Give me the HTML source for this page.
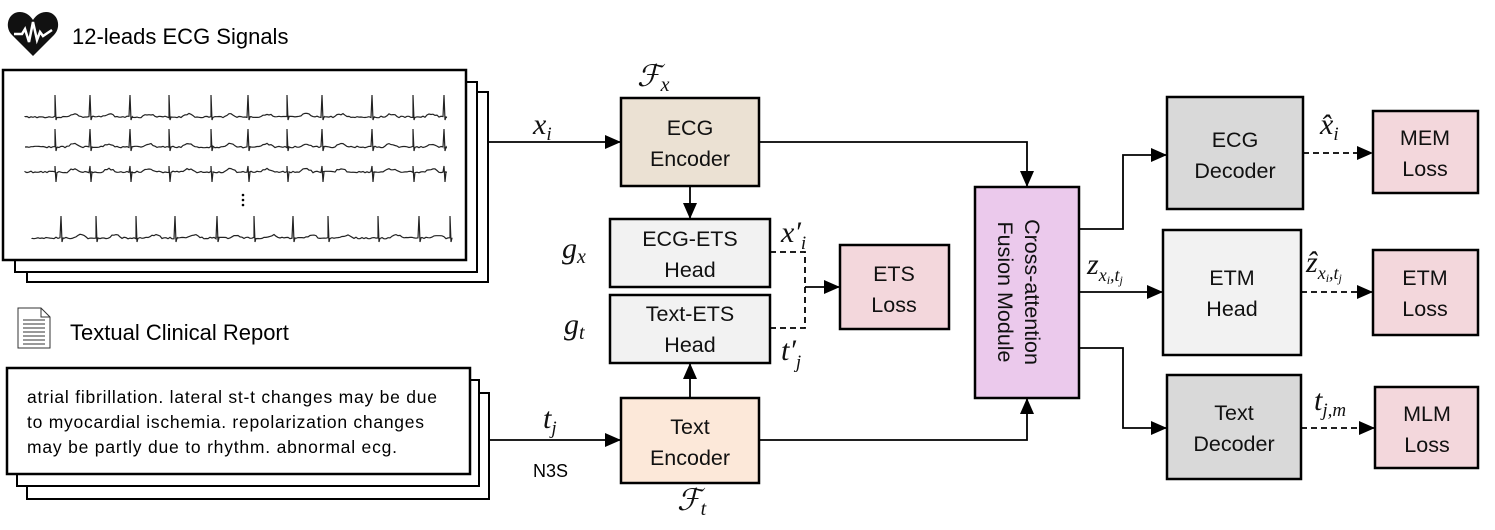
<!DOCTYPE html>
<html><head><meta charset="utf-8"><style>
html,body{margin:0;padding:0;background:#fff;width:1495px;height:530px;overflow:hidden}
text{font-family:"Liberation Sans",sans-serif}
text.m,text.m tspan{font-family:"Liberation Serif",serif;font-style:italic}
.b{font-size:21.5px;text-anchor:middle;fill:#111}
</style></head><body>
<svg id="s" width="1495" height="530" viewBox="0 0 1495 530" xmlns="http://www.w3.org/2000/svg">
<defs>
<marker id="a2" markerWidth="16" markerHeight="14" refX="15" refY="7" orient="auto" markerUnits="userSpaceOnUse"><path d="M0,0 L16,7 L0,14z" fill="#000"/></marker></defs>
<path d="M33,56 L12,35 C4,27 8,12 20,12 C27,12 31,17 33,20 C35,17 39,12 46,12 C58,12 62,27 54,35z" fill="#111"/>
<polyline points="14,34 22,34 25,29 29,42 33,22 37,40 40,32 43,36 52,30" fill="none" stroke="#fff" stroke-width="2.5"/>
<text x="72" y="44" font-size="22">12-leads ECG Signals</text>
<rect x="27" y="92" width="461" height="190" fill="#fff" stroke="#000" stroke-width="2"/>
<rect x="15" y="82" width="462" height="190" fill="#fff" stroke="#000" stroke-width="2"/>
<rect x="3" y="70" width="463" height="190" fill="#fff" stroke="#000" stroke-width="2.5"/>
<g id="w" fill="none" stroke="#222" stroke-width="1.2"></g>
<circle cx="243" cy="195" r="1.3"/><circle cx="243" cy="200" r="1.3"/><circle cx="243" cy="205" r="1.3"/>
<path d="M18,308 L41,308 L50,317 L50,348 L18,348z M41,308 L41,317 L50,317" fill="#fff" stroke="#333" stroke-width="1"/>
<g stroke="#333" stroke-width="1"><line x1="23" y1="320" x2="45" y2="320"/><line x1="23" y1="324" x2="45" y2="324"/><line x1="23" y1="328" x2="45" y2="328"/><line x1="23" y1="332" x2="45" y2="332"/><line x1="23" y1="336" x2="45" y2="336"/><line x1="23" y1="340" x2="45" y2="340"/><line x1="23" y1="344" x2="45" y2="344"/></g>
<text x="70" y="340" font-size="22">Textual Clinical Report</text>
<rect x="27" y="393" width="462" height="106" fill="#fff" stroke="#000" stroke-width="2"/>
<rect x="17" y="380" width="462" height="106" fill="#fff" stroke="#000" stroke-width="2"/>
<rect x="7" y="368" width="463" height="106" fill="#fff" stroke="#000" stroke-width="2.5"/>
<text x="27" y="403" font-size="17.5" textLength="410">atrial fibrillation. lateral st-t changes may be due</text>
<text x="27" y="428" font-size="17.5" textLength="397">to myocardial ischemia. repolarization changes</text>
<text x="27" y="453" font-size="17.5" textLength="370">may be partly due to rhythm. abnormal ecg.</text>
<g stroke="#000" stroke-width="1.8" fill="none">
<line x1="489" y1="142" x2="620" y2="142" marker-end="url(#a2)"/>
<line x1="489" y1="440" x2="620" y2="440" marker-end="url(#a2)"/>
<line x1="690" y1="186" x2="690" y2="218" marker-end="url(#a2)"/>
<line x1="690" y1="398" x2="690" y2="364" marker-end="url(#a2)"/>
<polyline points="759,142 1027,142 1027,186" marker-end="url(#a2)"/>
<polyline points="759,440 1027,440 1027,399" marker-end="url(#a2)"/>
<polyline points="1079,229 1123,229 1123,155 1166,155" marker-end="url(#a2)"/>
<line x1="1079" y1="292" x2="1162" y2="292" marker-end="url(#a2)"/>
<polyline points="1079,348 1123,348 1123,428 1166,428" marker-end="url(#a2)"/>
<line x1="805" y1="287" x2="839" y2="287" marker-end="url(#a2)"/>
</g>
<g stroke="#000" stroke-width="1.8" fill="none" stroke-dasharray="6,4">
<polyline points="770,252 805,252 805,328 770,328"/>
<line x1="1303" y1="153" x2="1372" y2="153" marker-end="url(#a2)"/>
<line x1="1301" y1="292" x2="1372" y2="292" marker-end="url(#a2)"/>
<line x1="1301" y1="428" x2="1374" y2="428" marker-end="url(#a2)"/>
</g>
<g stroke="#000" stroke-width="2.5">
<rect x="621" y="98" width="138" height="88" fill="#ebe1d3"/>
<rect x="610" y="219" width="160" height="68" fill="#f2f2f2"/>
<rect x="610" y="295" width="160" height="68" fill="#f2f2f2"/>
<rect x="621" y="398" width="138" height="85" fill="#fce8d9"/>
<rect x="840" y="245" width="109" height="84" fill="#f3d7dc"/>
<rect x="975" y="187" width="104" height="211" fill="#ebc9ec"/>
<rect x="1167" y="97" width="136" height="112" fill="#d9d9d9"/>
<rect x="1163" y="230" width="138" height="125" fill="#f2f2f2"/>
<rect x="1167" y="375" width="134" height="104" fill="#d9d9d9"/>
<rect x="1373" y="111" width="105" height="82" fill="#f3d7dc"/>
<rect x="1373" y="250" width="105" height="85" fill="#f3d7dc"/>
<rect x="1375" y="387" width="103" height="81" fill="#f3d7dc"/>
</g>
<text class="b" x="690" y="135">ECG</text><text class="b" x="690" y="166">Encoder</text>
<text class="b" x="690" y="246">ECG-ETS</text><text class="b" x="690" y="277">Head</text>
<text class="b" x="690" y="321">Text-ETS</text><text class="b" x="690" y="352">Head</text>
<text class="b" x="690" y="434">Text</text><text class="b" x="690" y="465">Encoder</text>
<text class="b" x="894" y="281">ETS</text><text class="b" x="894" y="312">Loss</text>
<text class="b" transform="translate(1020,292) rotate(90)" y="-5">Cross-attention</text>
<text class="b" transform="translate(1020,292) rotate(90)" y="22">Fusion Module</text>
<text class="b" x="1235" y="147">ECG</text><text class="b" x="1235" y="178">Decoder</text>
<text class="b" x="1232" y="285">ETM</text><text class="b" x="1232" y="316">Head</text>
<text class="b" x="1234" y="420">Text</text><text class="b" x="1234" y="451">Decoder</text>
<text class="b" x="1425" y="145">MEM</text><text class="b" x="1425" y="176">Loss</text>
<text class="b" x="1425" y="285">ETM</text><text class="b" x="1425" y="316">Loss</text>
<text class="b" x="1427" y="421">MLM</text><text class="b" x="1427" y="452">Loss</text>
<g font-size="30" fill="#111">
<text class="m" x="637" y="86">ℱ<tspan font-size="20" dy="5">x</tspan></text>
<text class="m" x="533" y="134">x<tspan font-size="19" dy="6">i</tspan></text>
<text class="m" x="562" y="258">g<tspan font-size="20" dy="5">x</tspan></text>
<text class="m" x="564" y="334">g<tspan font-size="20" dy="5">t</tspan></text>
<text class="m" x="781" y="242">x′<tspan font-size="19" dy="7">i</tspan></text>
<text class="m" x="781" y="360">t′<tspan font-size="19" dy="8">j</tspan></text>
<text class="m" x="543" y="428">t<tspan font-size="19" dy="6">j</tspan></text>
<text class="m" x="677" y="510">ℱ<tspan font-size="20" dy="5">t</tspan></text>
<text class="m" x="1320" y="134">x̂<tspan font-size="19" dy="6">i</tspan></text>
<text class="m" x="1087" y="274">z<tspan font-size="18" dy="7">x<tspan font-size="12" dy="3">i</tspan><tspan dy="-3">,t</tspan><tspan font-size="12" dy="3">j</tspan></tspan></text>
<text class="m" x="1306" y="272">ẑ<tspan font-size="18" dy="7">x<tspan font-size="12" dy="3">i</tspan><tspan dy="-3">,t</tspan><tspan font-size="12" dy="3">j</tspan></tspan></text>
<text class="m" x="1314" y="410">t<tspan font-size="19" dy="6">j,m</tspan></text>
</g>
<text x="533" y="477" font-size="18">N3S</text>
</svg>
<script>
(function(){
var g=document.getElementById('w');
var rows=[[25,448,117,22,3],[25,448,147,18,4],[25,448,172,6,10],[32,452,238,22,4]];
var bx=[55,90,130,169,211,248,287,322,372,413,444];
var seed=3;function r(){seed=(seed*9301+49297)%233280;return seed/233280;}
rows.forEach(function(row,k){
 var off=k==3?6:0;
 var d='M'+row[0]+','+row[2];
 for(var x=row[0];x<=row[1];x+=2){
  var y=row[2]+(r()-0.5)*1.6;
  var spike=-1;
  bx.forEach(function(b){b+=off;
   if(x<=b&&x+2>b)spike=b;
   var t=x-b-12; if(t>0&&t<14) y-=Math.sin(t/14*Math.PI)*3;
  });
  d+=' L'+x+','+y.toFixed(1);
  if(spike>0){d+=' L'+spike+','+(row[2]-row[3])+' L'+(spike+1)+','+(row[2]+row[4])+' L'+(spike+2)+','+row[2];}
 }
 var p=document.createElementNS('http://www.w3.org/2000/svg','path');p.setAttribute('d',d);g.appendChild(p);
});
})();
</script>
</body></html>
